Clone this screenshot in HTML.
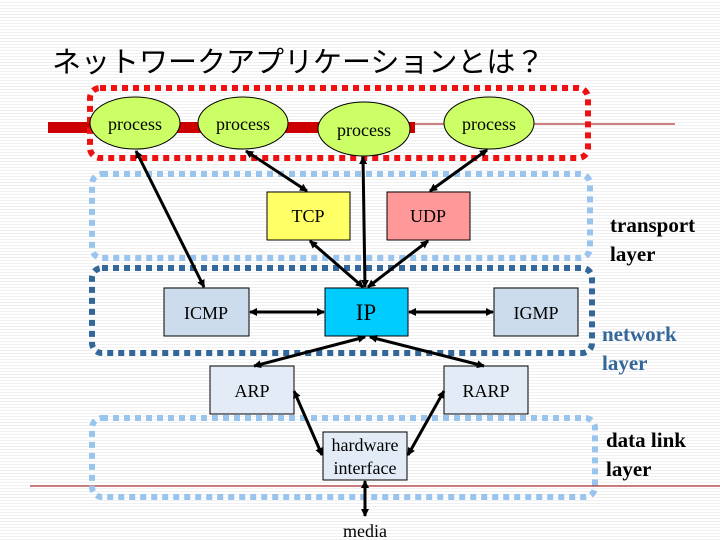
<!DOCTYPE html>
<html><head><meta charset="utf-8"><style>
body{margin:0;width:720px;height:540px;overflow:hidden;background:#fff;}
svg{display:block}
text{font-family:"Liberation Serif","Noto Serif CJK SC",serif;}
</style></head><body>
<svg width="720" height="540" viewBox="0 0 720 540" xmlns="http://www.w3.org/2000/svg">
<defs>
<pattern id="bg" width="4" height="3" patternUnits="userSpaceOnUse"><rect width="4" height="3" fill="#fff"/><rect y="2" width="4" height="1" fill="#f0f0f0"/></pattern>
<marker id="a" markerWidth="8" markerHeight="8" refX="7" refY="4" orient="auto-start-reverse" markerUnits="userSpaceOnUse"><path d="M0,0 L8,4 L0,8 z" fill="#000"/></marker>
</defs>
<rect width="720" height="540" fill="url(#bg)"/>
<text x="52" y="72" font-size="29" style="font-family:'Noto Sans CJK JP',sans-serif" fill="#000">ネットワークアプリケーションとは？</text>
<line x1="415" y1="124" x2="675" y2="124" stroke="#990000" stroke-width="1"/>
<rect x="48" y="122" width="367" height="11" fill="#cc0000"/>
<line x1="30" y1="486" x2="720" y2="486" stroke="#990000" stroke-width="1"/>
<rect x="90" y="88" width="498" height="70" rx="10" fill="none" stroke="#ee1111" stroke-width="6" stroke-dasharray="6,5"/>
<rect x="92" y="174" width="498" height="84" rx="10" fill="none" stroke="#99c4ee" stroke-width="6" stroke-dasharray="6,5"/>
<rect x="92" y="268" width="500" height="85" rx="10" fill="none" stroke="#336699" stroke-width="6" stroke-dasharray="6,5"/>
<rect x="92" y="418" width="503" height="79" rx="10" fill="none" stroke="#99c4ee" stroke-width="6" stroke-dasharray="6,5"/>
<g fill="#ccff66" stroke="#000" stroke-width="1">
<ellipse cx="135" cy="123" rx="45" ry="26"/>
<ellipse cx="243" cy="123" rx="45" ry="26"/>
<ellipse cx="364" cy="129" rx="46" ry="27"/>
<ellipse cx="489" cy="123" rx="45" ry="26"/>
</g>
<g font-size="18" text-anchor="middle">
<text x="135" y="130">process</text>
<text x="243" y="130">process</text>
<text x="364" y="136">process</text>
<text x="489" y="130">process</text>
</g>
<g stroke="#000" stroke-width="1">
<rect x="267" y="192" width="83" height="48" fill="#ffff66"/>
<rect x="387" y="192" width="83" height="48" fill="#ff9999"/>
<rect x="164" y="288" width="85" height="48" fill="#ccdcec"/>
<rect x="325" y="288" width="83" height="48" fill="#00ccff"/>
<rect x="494" y="288" width="84" height="48" fill="#ccdcec"/>
<rect x="210" y="366" width="84" height="48" fill="#e3ecf6"/>
<rect x="444" y="366" width="84" height="48" fill="#e3ecf6"/>
<rect x="323" y="432" width="84" height="48" fill="#e3ecf6"/>
</g>
<g font-size="18" text-anchor="middle">
<text x="308" y="222">TCP</text>
<text x="428" y="222">UDP</text>
<text x="206" y="319">ICMP</text>
<text x="366" y="320" font-size="23">IP</text>
<text x="536" y="319">IGMP</text>
<text x="252" y="397">ARP</text>
<text x="486" y="397">RARP</text>
<text x="365" y="451">hardware</text>
<text x="365" y="474">interface</text>
<text x="365" y="537">media</text>
</g>
<g stroke="#000" stroke-width="3" marker-start="url(#a)" marker-end="url(#a)">
<line x1="136" y1="151" x2="204" y2="287"/>
<line x1="246" y1="151" x2="307" y2="191"/>
<line x1="363" y1="157" x2="365" y2="287"/>
<line x1="487" y1="150" x2="430" y2="191"/>
<line x1="310" y1="241" x2="363" y2="287"/>
<line x1="428" y1="241" x2="368" y2="287"/>
<line x1="250" y1="312" x2="324" y2="312"/>
<line x1="409" y1="312" x2="493" y2="312"/>
<line x1="365" y1="337" x2="254" y2="366"/>
<line x1="370" y1="337" x2="484" y2="366"/>
<line x1="294" y1="391" x2="322" y2="455"/>
<line x1="444" y1="391" x2="408" y2="455"/>
<line x1="365" y1="481" x2="365" y2="516"/>
</g>
<g font-size="21" font-weight="bold">
<text x="610" y="232" fill="#000">transport</text>
<text x="610" y="261" fill="#000">layer</text>
<text x="602" y="341" fill="#336699">network</text>
<text x="602" y="370" fill="#336699">layer</text>
<text x="606" y="447" fill="#000">data link</text>
<text x="606" y="476" fill="#000">layer</text>
</g>
</svg>
</body></html>
